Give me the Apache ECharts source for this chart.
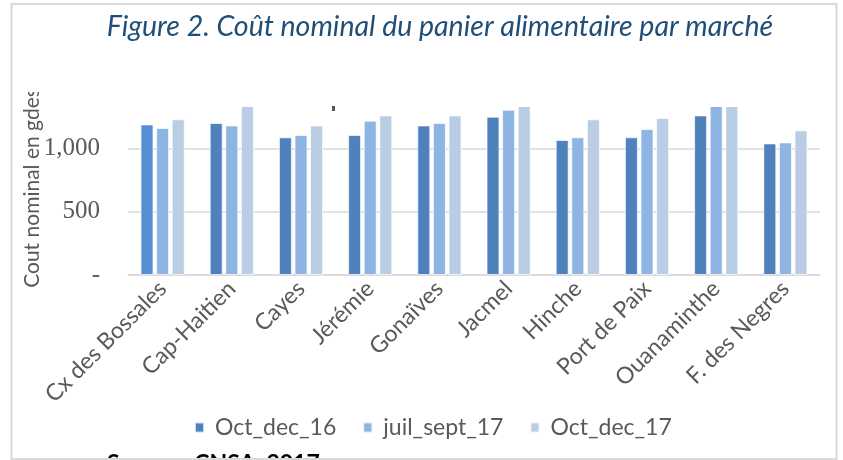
<!DOCTYPE html>
<html>
<head>
<meta charset="utf-8">
<script src="https://cdn.jsdelivr.net/npm/echarts@6/dist/echarts.min.js"></script>
<style>html,body{margin:0;padding:0;background:#fff}#c{width:843px;height:460px}</style>
</head>
<body>
<div id="c"></div>
<script>
var categories = ['Cx des Bossales','Cap-Haitien','Cayes','Jérémie','Gonaïves','Jacmel','Hinche','Port de Paix','Ouanaminthe','F. des Negres'];
var seriesNames = ['Oct_dec_16','juil_sept_17','Oct_dec_17'];
var octDec16 = [1189,1200,1087,1105,1181,1250,1066,1087,1260,1039];
var juilSept17 = [1160,1181,1105,1218,1200,1305,1087,1152,1345,1047];
var octDec17 = [1229,1350,1181,1260,1260,1345,1229,1239,1350,1142];
var yTicks = [0,500,1000,1500];

var chart = echarts.init(document.getElementById('c'), null, {renderer:'canvas'});
var gray = '#595959';
var barBorder = {borderColor:'rgba(255,255,255,0.7)', borderWidth:1};
var d16 = octDec16.map(function(v,i){
  return i===0 ? {value:v, itemStyle:{color:'#558ED5'}} : v;
});
chart.setOption({
  animation:false,
  backgroundColor:'#fff',
  grid:{left:128, right:23, top:85, bottom:185, containLabel:false},
  legend:{
    data:seriesNames, left:189, top:411, itemWidth:9, itemHeight:10, itemGap:26,
    icon:'rect',
    textStyle:{fontFamily:'Lato', fontSize:23, color:gray, padding:[0,0,0,6]}
  },
  xAxis:{
    type:'category', data:categories,
    axisTick:{show:false},
    axisLine:{lineStyle:{color:'#d9d9d9', width:1.5}},
    axisLabel:{rotate:45, interval:0, margin:10, fontFamily:'Lato', fontSize:23, color:gray}
  },
  yAxis:{
    type:'value', min:yTicks[0], max:yTicks[yTicks.length-1], interval:500,
    axisLine:{show:false}, axisTick:{show:false},
    splitLine:{lineStyle:{color:'#d9d9d9', width:1.5}},
    axisLabel:{margin:28, fontFamily:'Liberation Serif', fontSize:25, color:gray, showMaxLabel:false,
      formatter:function(v){ return v===0 ? '-' : v.toLocaleString('en-US'); }}
  },
  series:[
    {name:seriesNames[0], type:'bar', data:d16, barWidth:13, barGap:'20%', itemStyle:Object.assign({color:'#4F81BD'}, barBorder)},
    {name:seriesNames[1], type:'bar', data:juilSept17, barWidth:13, barGap:'20%', itemStyle:Object.assign({color:'#8EB4E3'}, barBorder)},
    {name:seriesNames[2], type:'bar', data:octDec17, barWidth:13, barGap:'20%', itemStyle:Object.assign({color:'#B9CDE5'}, barBorder)}
  ],
  graphic:[
    {type:'rect', z:100, shape:{x:115, y:5, width:720, height:102}, style:{fill:'#fff'}},
    {type:'rect', z:100, shape:{x:13, y:5, width:102, height:87}, style:{fill:'#fff'}},
    {type:'rect', z:101, shape:{x:332, y:106, width:3, height:5}, style:{fill:'#555'}},
    {type:'text', z:102, x:440, y:27, style:{text:'Figure 2. Coût nominal du panier alimentaire par marché',
      fontFamily:'Lato', fontStyle:'italic', fontSize:28.5, fill:'#1F4E79', align:'center', verticalAlign:'middle'}},
    {type:'text', z:50, x:32, y:188, rotation:Math.PI/2, style:{text:'Cout nominal en gdes',
      fontFamily:'Lato', fontSize:21, fill:gray, align:'center', verticalAlign:'middle'}},
    {type:'text', z:102, x:107, y:452, style:{text:'Source : CNSA, 2017',
      fontFamily:'Lato', fontWeight:'bold', fontSize:23, fill:'#000', align:'left', verticalAlign:'top'}},
    {type:'rect', z:103, shape:{x:11.5, y:4, width:825, height:455}, style:{fill:'none', stroke:'#d9d9d9', lineWidth:2}}
  ]
});
</script>
</body>
</html>
